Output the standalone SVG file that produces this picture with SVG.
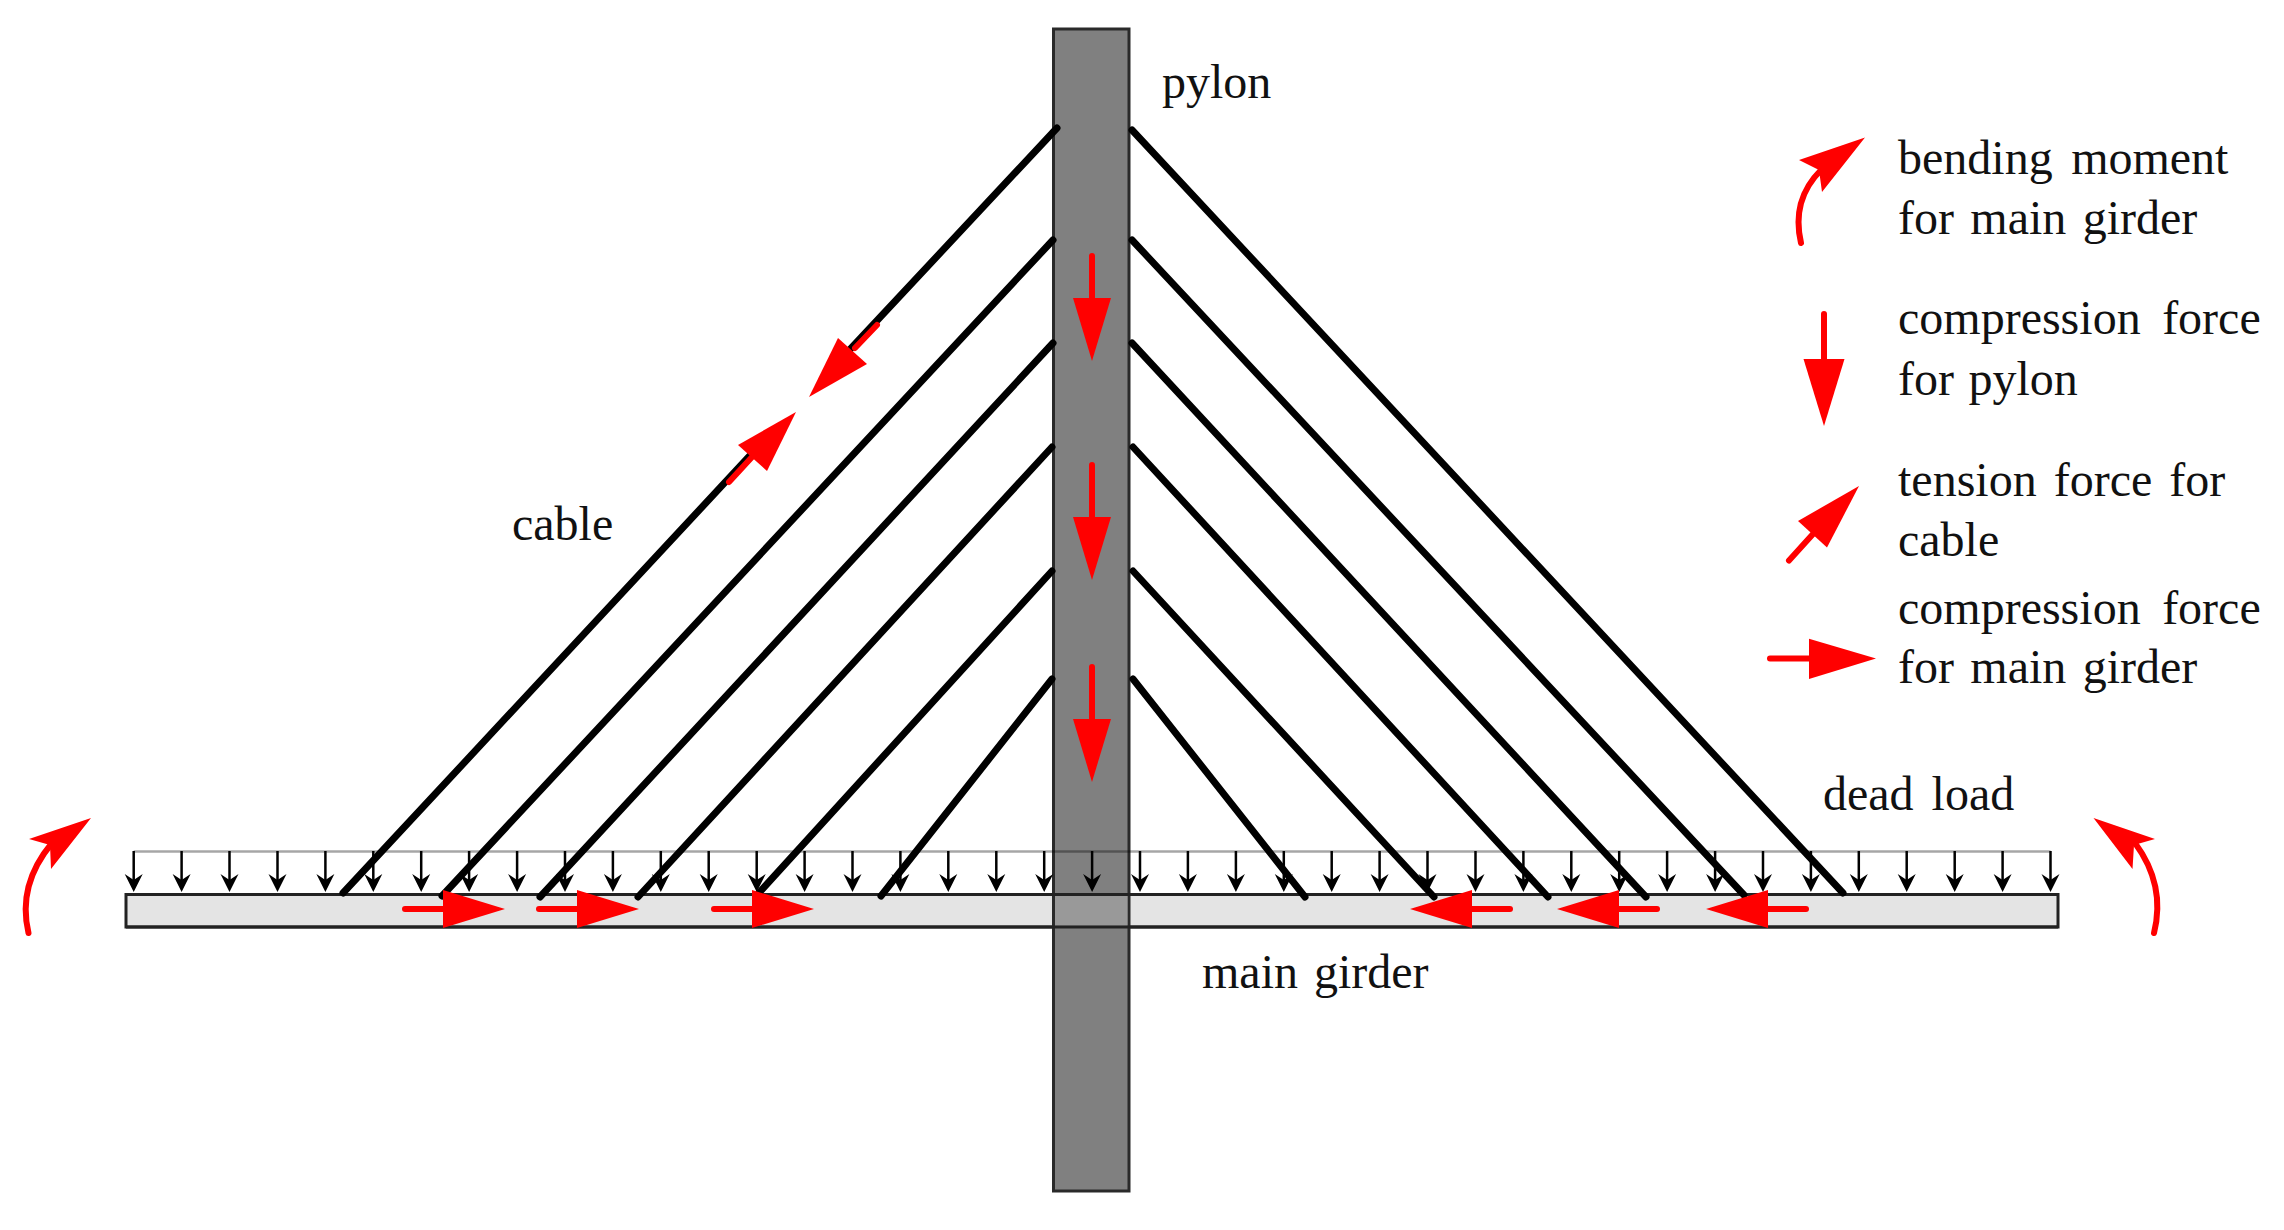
<svg xmlns="http://www.w3.org/2000/svg" width="2284" height="1230" viewBox="0 0 2284 1230">
<style>
text{font-family:"Liberation Serif","Times New Roman",serif;font-size:48px;fill:#111}
.cable{stroke:#000;stroke-width:7;stroke-linecap:round;fill:none}
.load{stroke:#000;stroke-width:2.5;fill:none}
.head{fill:#000}
.rs{stroke:#f00;stroke-width:6;stroke-linecap:round;fill:none}
.rh{fill:#f00}
</style>
<defs>
<g id="dl"><path class="load" d="M0 0V36"/><path class="head" d="M0 41L-9 23L0 29L9 23Z"/></g>
<g id="pa"><path class="rh" d="M-19 0H19L0 63Z"/></g>
<g id="ga"><path class="rs" d="M0 0H40"/><path class="rh" d="M38 -19L100 0L38 19Z"/></g>
</defs>
<rect width="2284" height="1230" fill="#fff"/>
<g id="main-girder">
<rect x="126" y="894.500" width="1932" height="32.500" fill="#e4e4e4" stroke="#222" stroke-width="3"/>
</g>
<g id="pylon">
<rect x="1053.500" y="29" width="75.500" height="1162" fill="#808080" stroke="#2a2a2a" stroke-width="3"/>
<rect x="1055" y="896" width="72.500" height="29.500" fill="#999"/>
<path d="M126 894.500H2058M126 927H2058" stroke="#222" stroke-width="3" fill="none"/>
</g>
<g id="dead-load">
<path d="M133.700 851.500H2050.500" stroke="#000" stroke-opacity=".35" stroke-width="2.500" fill="none"/>
<use href="#dl" x="133.700" y="851"/><use href="#dl" x="181.600" y="851"/><use href="#dl" x="229.500" y="851"/><use href="#dl" x="277.500" y="851"/><use href="#dl" x="325.400" y="851"/><use href="#dl" x="373.300" y="851"/><use href="#dl" x="421.200" y="851"/><use href="#dl" x="469.100" y="851"/><use href="#dl" x="517.100" y="851"/><use href="#dl" x="565" y="851"/><use href="#dl" x="612.900" y="851"/><use href="#dl" x="660.800" y="851"/><use href="#dl" x="708.700" y="851"/><use href="#dl" x="756.700" y="851"/><use href="#dl" x="804.600" y="851"/><use href="#dl" x="852.500" y="851"/><use href="#dl" x="900.400" y="851"/><use href="#dl" x="948.300" y="851"/><use href="#dl" x="996.300" y="851"/><use href="#dl" x="1044.200" y="851"/><use href="#dl" x="1092.100" y="851"/><use href="#dl" x="1140" y="851"/><use href="#dl" x="1187.900" y="851"/><use href="#dl" x="1235.900" y="851"/><use href="#dl" x="1283.800" y="851"/><use href="#dl" x="1331.700" y="851"/><use href="#dl" x="1379.600" y="851"/><use href="#dl" x="1427.500" y="851"/><use href="#dl" x="1475.500" y="851"/><use href="#dl" x="1523.400" y="851"/><use href="#dl" x="1571.300" y="851"/><use href="#dl" x="1619.200" y="851"/><use href="#dl" x="1667.100" y="851"/><use href="#dl" x="1715.100" y="851"/><use href="#dl" x="1763" y="851"/><use href="#dl" x="1810.900" y="851"/><use href="#dl" x="1858.800" y="851"/><use href="#dl" x="1906.700" y="851"/><use href="#dl" x="1954.700" y="851"/><use href="#dl" x="2002.600" y="851"/><use href="#dl" x="2050.500" y="851"/>
</g>
<g id="connectors">
<path class="cable" d="M1057 128L842 358M770 434L343 893"/>
<path class="cable" d="M1053 240L442 896"/>
<path class="cable" d="M1053 343L540 897"/>
<path class="cable" d="M1052 447L638 897"/>
<path class="cable" d="M1052 571L757 895"/>
<path class="cable" d="M1052 679L881 896"/>
<path class="cable" d="M1132 130L1843 893"/>
<path class="cable" d="M1132 240L1744 895"/>
<path class="cable" d="M1132 343L1646 897"/>
<path class="cable" d="M1133 447L1548 897"/>
<path class="cable" d="M1133 571L1434 897"/>
<path class="cable" d="M1133 679L1305 897"/>
</g>
<g id="force-arrows">
<path class="rs" d="M1092 256V300M1092 465V519M1092 667V721"/>
<use href="#pa" x="1092" y="298"/><use href="#pa" x="1092" y="517"/><use href="#pa" x="1092" y="719"/>
<use href="#ga" x="405" y="909"/><use href="#ga" x="539" y="909"/><use href="#ga" x="714" y="909"/>
<use href="#ga" transform="translate(1657 909) scale(-1 1)"/><use href="#ga" transform="translate(1806 909) scale(-1 1)"/><use href="#ga" transform="translate(1510 909) scale(-1 1)"/>
<path class="rs" d="M877 325L855 348"/><path class="rh" d="M809 397L838 338L867 364Z"/>
<path class="rs" d="M729 482L752 457"/><path class="rh" d="M796 412L738 445L767 471Z"/>
<path class="rs" d="M28.500 933Q17 885 52 843"/><path class="rh" d="M91 818L29 839L50 845L51 869Z"/>
<path class="rs" d="M2154 933Q2166 885 2135 843"/><path class="rh" d="M2093.500 818L2155 839L2134 845L2132.500 869Z"/>
</g>
<g id="legend">
<path class="rs" d="M1801 243Q1791 200 1821 170"/><path class="rh" d="M1865 137.500L1799 160L1819 170L1822 192Z"/>
<path class="rs" d="M1824 314V361"/><path class="rh" d="M1803.500 359H1844.500L1824 426Z"/>
<path class="rs" d="M1789 560.500L1813 534"/><path class="rh" d="M1859 486L1798 521L1827 547.500Z"/>
<path class="rs" d="M1770 658.500H1811"/><path class="rh" d="M1809 638.700L1876 658.500L1809 679Z"/>
<text style="word-spacing:6.500px" x="1898" y="173.500">bending moment</text>
<text style="word-spacing:4.400px" x="1898" y="233.500">for main girder</text>
<text style="word-spacing:9.500px" x="1898" y="334">compression force</text>
<text style="word-spacing:2.500px" x="1898" y="394.500">for pylon</text>
<text style="word-spacing:5px" x="1898" y="496">tension force for</text>
<text x="1898" y="556">cable</text>
<text style="word-spacing:9.500px" x="1898" y="623.500">compression force</text>
<text style="word-spacing:4.400px" x="1898" y="682.500">for main girder</text>
</g>
<g id="labels">
<text x="1162" y="98">pylon</text>
<text x="512" y="540">cable</text>
<text x="1202" y="988" style="word-spacing:4px">main girder</text>
<text x="1823" y="810" style="word-spacing:6px">dead load</text>
</g>
</svg>
